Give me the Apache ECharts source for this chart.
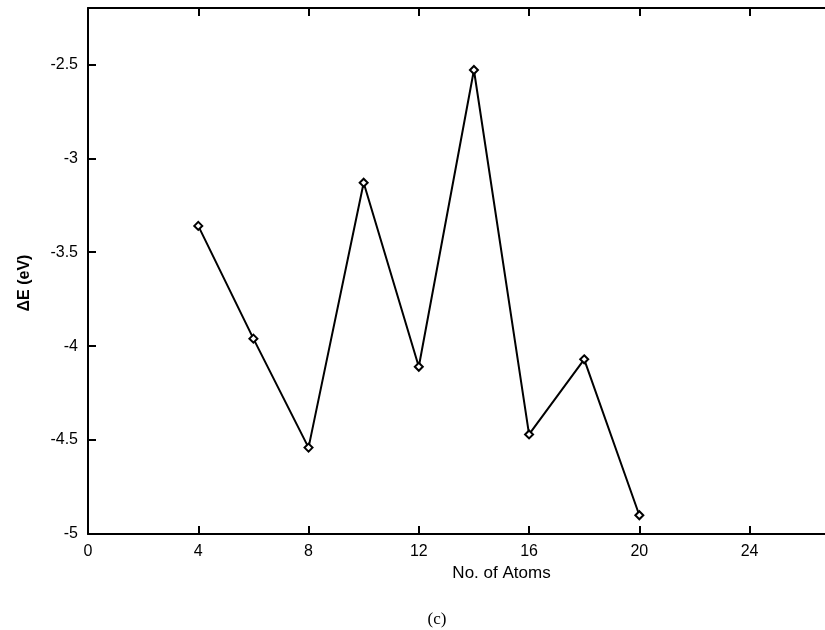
<!DOCTYPE html>
<html>
<head>
<meta charset="utf-8">
<script src="https://cdn.jsdelivr.net/npm/echarts@6/dist/echarts.min.js"></script>
<style>
  html, body { margin: 0; padding: 0; background: #fff; }
  #chart { width: 825px; height: 630px; }
</style>
</head>
<body>
<div id="chart"></div>
<script>
  // values
  var atoms = [4, 6, 8, 10, 12, 14, 16, 18, 20];
  var deltaE = [-3.36, -3.96, -4.54, -3.13, -4.11, -2.53, -4.47, -4.07, -4.90];

  var font = 'Liberation Sans, Arial, sans-serif';
  var black = '#000';

  var chart = echarts.init(document.getElementById('chart'));

  var lineStyle = { color: black, width: 2 };
  var tickStyle = { show: true, inside: true, length: 8, lineStyle: { color: black, width: 2 } };

  chart.setOption({
    animation: false,
    backgroundColor: '#fff',
    // the plot box runs past the right edge of the page, as in the scan
    grid: { left: 88, right: -90, top: 8, bottom: 96, containLabel: false, outerBoundsMode: 'none' },
    xAxis: [
      {
        type: 'value',
        position: 'bottom',
        min: 0,
        max: 30,
        interval: 4,
        axisLine: { lineStyle: lineStyle },
        axisTick: tickStyle,
        splitLine: { show: false },
        axisLabel: { margin: 10, fontSize: 16, color: black, fontFamily: font },
        name: 'No. of Atoms',
        nameLocation: 'middle',
        nameGap: 29,
        nameTextStyle: { fontSize: 17, color: black, fontFamily: font }
      },
      {
        // top border with mirrored ticks
        type: 'value',
        position: 'top',
        min: 0,
        max: 30,
        interval: 4,
        axisLine: { lineStyle: lineStyle },
        axisTick: tickStyle,
        splitLine: { show: false },
        axisLabel: { show: false }
      }
    ],
    yAxis: {
      type: 'value',
      min: -5,
      max: -2.2,
      interval: 0.5,
      axisLine: { lineStyle: lineStyle },
      axisTick: tickStyle,
      splitLine: { show: false },
      axisLabel: { margin: 10, fontSize: 16, color: black, fontFamily: font, showMaxLabel: false },
      name: 'ΔE (eV)',
      nameLocation: 'middle',
      nameGap: 55,
      nameRotate: 90,
      nameTextStyle: { fontSize: 16, fontWeight: 'bold', color: black, fontFamily: font, padding: [0, 24, 0, 0] }
    },
    series: [
      {
        type: 'line',
        xAxisIndex: 0,
        data: atoms.map(function (a, i) { return [a, deltaE[i]]; }),
        symbol: 'diamond',
        symbolSize: 8,
        showAllSymbol: true,
        lineStyle: { color: black, width: 2 },
        itemStyle: { color: '#fff', borderColor: black, borderWidth: 2 }
      }
    ],
    graphic: [
      {
        type: 'text',
        x: 437,
        y: 620,
        style: {
          text: '(c)',
          fill: black,
          font: '17px "Liberation Serif", "Times New Roman", serif',
          textAlign: 'center',
          textVerticalAlign: 'middle'
        }
      }
    ]
  });
</script>
</body>
</html>
